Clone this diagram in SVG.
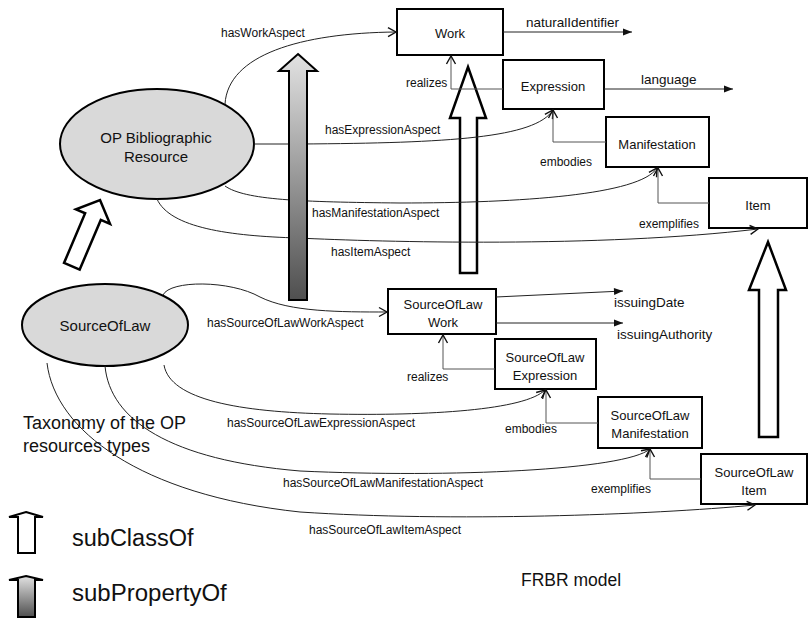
<svg xmlns="http://www.w3.org/2000/svg" width="811" height="618" viewBox="0 0 811 618">
<defs>
<linearGradient id="gray" x1="0" y1="0" x2="0" y2="1">
<stop offset="0" stop-color="#e2e2e2"/>
<stop offset="1" stop-color="#4f4f4f"/>
</linearGradient>
<marker id="open" markerUnits="userSpaceOnUse" markerWidth="12" markerHeight="12" viewBox="-10 -6 12 12" refX="0" refY="0" orient="auto">
<path d="M-8,-4.5 L0,0 L-8,4.5" fill="none" stroke="#111" stroke-width="1.4"/>
</marker>
<marker id="solid" markerUnits="userSpaceOnUse" markerWidth="12" markerHeight="12" viewBox="-10 -6 12 12" refX="0" refY="0" orient="auto">
<path d="M-9,-3.5 L0,0 L-9,3.5 Z" fill="#111"/>
</marker>
</defs>
<style>
.box{fill:#fff;stroke:#000;stroke-width:2}
.ell{fill:#d9d9d9;stroke:#000;stroke-width:2}
.t{font-family:"Liberation Sans",Arial,sans-serif;fill:#111}
.bt{font-size:13px;text-anchor:middle}
.lbl{font-size:12px}
.prop{font-size:13.5px}
.curve{fill:none;stroke:#222;stroke-width:1;marker-end:url(#open)}
.elbow{fill:none;stroke:#555;stroke-width:1;marker-end:url(#open)}
.attr{fill:none;stroke:#222;stroke-width:1;marker-end:url(#solid)}
.sub{fill:#fff;stroke:#000;stroke-width:2.5;stroke-linejoin:miter}
.subp{fill:url(#gray);stroke:#000;stroke-width:2}
</style>
<rect width="811" height="618" fill="#fff"/>

<g id="subclass-arrows">
<polygon class="sub" points="468,67 486,118 477,118 477,273 460,273 460,118 450,118"/>
<polygon class="sub" points="768,242 786,290 778,290 778,437 759,437 759,290 749,290"/>
<polygon class="sub" transform="translate(100,200) rotate(23)" points="0,0 18.5,18 8.5,18 8.5,72 -8.5,72 -8.5,18 -18.5,18"/>
</g>

<g id="op-bibliographic-resource">
<ellipse class="ell" cx="157" cy="144" rx="97" ry="55"/>
<text class="t" x="156" y="142.5" font-size="15" text-anchor="middle">OP Bibliographic</text>
<text class="t" x="156" y="161.5" font-size="15" text-anchor="middle">Resource</text>
</g>
<g id="source-of-law">
<ellipse class="ell" cx="105" cy="325" rx="83" ry="41"/>
<text class="t" x="105" y="331" font-size="15" text-anchor="middle">SourceOfLaw</text>
</g>

<g id="work"><rect class="box" x="397" y="9" width="106" height="46"/><text class="t bt" x="450" y="37.5">Work</text></g>
<g id="expression"><rect class="box" x="503" y="60" width="101" height="49"/><text class="t bt" x="553" y="90.5">Expression</text></g>
<g id="manifestation"><rect class="box" x="606" y="117" width="103" height="50"/><text class="t bt" x="657" y="148.5">Manifestation</text></g>
<g id="item"><rect class="box" x="709" y="178" width="98" height="50"/><text class="t bt" x="758" y="209.5">Item</text></g>

<g id="sol-work"><rect class="box" x="388" y="289" width="108" height="45"/><text class="t bt" x="443" y="308.5">SourceOfLaw</text><text class="t bt" x="443" y="326.5">Work</text></g>
<g id="sol-expression"><rect class="box" x="495" y="339" width="101" height="50"/><text class="t bt" x="545" y="361.5">SourceOfLaw</text><text class="t bt" x="545" y="379.5">Expression</text></g>
<g id="sol-manifestation"><rect class="box" x="598" y="397" width="104" height="51"/><text class="t bt" x="650" y="419.5">SourceOfLaw</text><text class="t bt" x="650" y="437.5">Manifestation</text></g>
<g id="sol-item"><rect class="box" x="701" y="454" width="106" height="50"/><text class="t bt" x="754" y="476.5">SourceOfLaw</text><text class="t bt" x="754" y="494.5">Item</text></g>

<g id="connectors">
<path class="curve" d="M225,104 C228,55 300,33 396,32"/>
<path class="curve" d="M254,144 L300,144 C450,143 535,138 553,110"/>
<path class="curve" d="M225,186 C245,200 300,202 400,203 C520,203 640,195 657,168"/>
<path class="curve" d="M157,199 C170,228 230,236 298,238 C380,242 600,248 758,229"/>
<path class="curve" d="M163,295 C170,280 230,280 260,297 C290,312 340,312 387,312"/>
<path class="curve" d="M164,365 C170,400 240,412 330,414 C430,416 525,410 545,390"/>
<path class="curve" d="M105,366 C110,420 170,460 300,471 C450,478 625,470 650,449"/>
<path class="curve" d="M47,363 C55,430 140,495 300,512 C450,522 650,515 755,505"/>

<path class="elbow" d="M503,89 H451 V56"/>
<path class="elbow" d="M606,142 H553 V110"/>
<path class="elbow" d="M709,203 H658 V168"/>
<path class="elbow" d="M495,369 H443 V335"/>
<path class="elbow" d="M598,423 H546 V390"/>
<path class="elbow" d="M701,479 H650 V449"/>

<path class="attr" d="M503,32 H632"/>
<path class="attr" d="M604,89 H733"/>
<path class="attr" d="M496,297 L623,291"/>
<path class="attr" d="M496,323 H623"/>
</g>

<g id="subproperty-arrow">
<polygon class="subp" points="298,54 317,71 307,71 307,300 289,300 289,71 279,71"/>
</g>

<g id="labels">
<text class="t lbl" x="221" y="37">hasWorkAspect</text>
<text class="t lbl" x="325" y="134">hasExpressionAspect</text>
<text class="t lbl" x="312" y="217">hasManifestationAspect</text>
<text class="t lbl" x="331" y="256">hasItemAspect</text>
<text class="t lbl" x="207" y="327">hasSourceOfLawWorkAspect</text>
<text class="t lbl" x="227" y="427">hasSourceOfLawExpressionAspect</text>
<text class="t lbl" x="283" y="487">hasSourceOfLawManifestationAspect</text>
<text class="t lbl" x="309" y="534">hasSourceOfLawItemAspect</text>
<text class="t lbl" x="406" y="87">realizes</text>
<text class="t lbl" x="407" y="381">realizes</text>
<text class="t lbl" x="540" y="166" font-size="12.5">embodies</text>
<text class="t lbl" x="505" y="433" font-size="12.5">embodies</text>
<text class="t lbl" x="639" y="228" font-size="12.5">exemplifies</text>
<text class="t lbl" x="591" y="493" font-size="12.5">exemplifies</text>
<text class="t prop" x="526" y="27">naturalIdentifier</text>
<text class="t prop" x="641" y="84">language</text>
<text class="t prop" x="614" y="307">issuingDate</text>
<text class="t prop" x="617" y="339">issuingAuthority</text>
</g>

<g id="captions">
<text class="t" x="23" y="428.5" font-size="18">Taxonomy of the OP</text>
<text class="t" x="23" y="452" font-size="18">resources types</text>
<text class="t" x="521" y="586" font-size="17.5">FRBR model</text>
</g>

<g id="legend">
<polygon class="sub" style="stroke-width:2" points="26,512 43,517 35,517 35,553 18,553 18,517 9,517"/>
<text class="t" x="72" y="546" font-size="23.5">subClassOf</text>
<polygon class="subp" points="26,576 43,580 35,580 35,617 18,617 18,580 9,580"/>
<text class="t" x="72" y="601" font-size="24">subPropertyOf</text>
</g>
</svg>
